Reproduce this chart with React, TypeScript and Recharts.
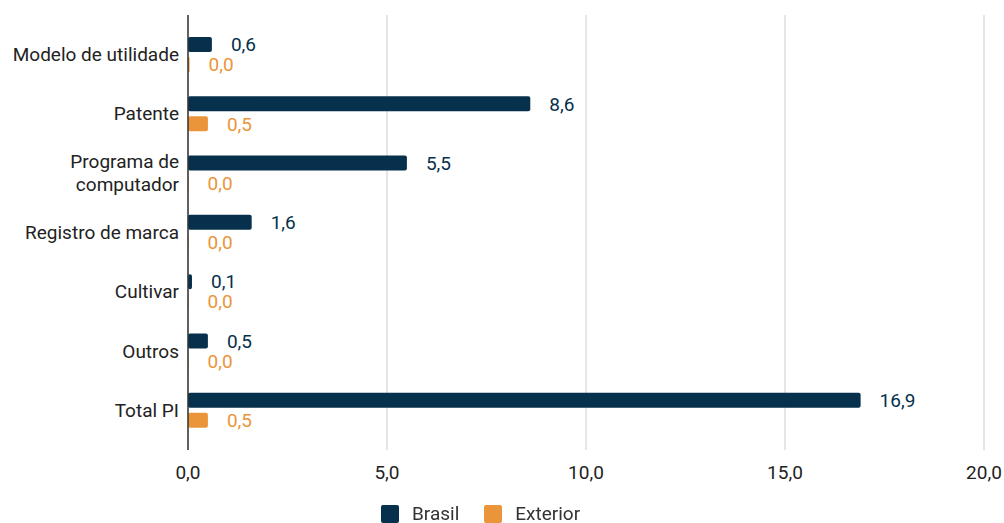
import { BarChart, Bar, XAxis, YAxis, CartesianGrid, LabelList, Legend } from "recharts";

const categories = [
  "Modelo de utilidade",
  "Patente",
  "Programa de\ncomputador",
  "Registro de marca",
  "Cultivar",
  "Outros",
  "Total PI",
];
const brasil = [0.6, 8.6, 5.5, 1.6, 0.1, 0.5, 16.9];
const exterior = [0.04, 0.5, 0.0, 0.0, 0.0, 0.0, 0.5];
const xTicks = [0, 5, 10, 15, 20];

const BRASIL = "#06304b";
const EXTERIOR = "#eb953a";
const FONT = "Roboto, sans-serif";
const FS = 19;

const fmt = (v: number) => v.toFixed(1).replace(".", ",");

const data = categories.map((name, i) => ({
  name,
  brasil: brasil[i],
  exterior: exterior[i],
}));

function CategoryTick({ x, y, payload }: any) {
  const lines = String(payload.value).split("\n");
  const lh = 23;
  const start = y - ((lines.length - 1) * lh) / 2;
  return (
    <text x={x - 1} y={start} textAnchor="end" fontSize={FS} fill="#222" fontFamily={FONT}>
      {lines.map((l, i) => (
        <tspan key={i} x={x - 1} y={start + i * lh} dominantBaseline="central">
          {l}
        </tspan>
      ))}
    </text>
  );
}

function LegendBox() {
  const items = [
    { label: "Brasil", color: BRASIL },
    { label: "Exterior", color: EXTERIOR },
  ];
  return (
    <div style={{ display: "flex", alignItems: "center", paddingLeft: 381, height: 18, lineHeight: "18px", fontFamily: FONT, fontSize: FS, color: "#333" }}>
      {items.map((it) => (
        <div key={it.label} style={{ display: "flex", alignItems: "center", marginRight: 25 }}>
          <span style={{ width: 18, height: 18, background: it.color, borderRadius: 2, marginRight: 13, display: "inline-block" }} />
          <span>{it.label}</span>
        </div>
      ))}
    </div>
  );
}

export default function App() {
  return (
    <div style={{ position: "fixed", left: 0, top: 0, background: "#fff" }}>
      <BarChart
        width={1004}
        height={523}
        data={data}
        layout="vertical"
        margin={{ top: 15, right: 20, bottom: 0, left: 0 }}
        barSize={15}
        barGap={5}
      >
        <CartesianGrid horizontal={false} stroke="#cccccc" />
        <XAxis
          type="number"
          domain={[0, 20]}
          ticks={xTicks}
          tickFormatter={fmt}
          axisLine={false}
          tickLine={false}
          height={55}
          tickMargin={10}
          tick={{ fontSize: FS, fill: "#222", fontFamily: FONT }}
        />
        <YAxis
          type="category"
          dataKey="name"
          width={188}
          axisLine={{ stroke: "#333", strokeWidth: 1.5 }}
          tickLine={false}
          padding={{ top: 10, bottom: 10 }}
          tick={<CategoryTick />}
          interval={0}
        />
        <Legend verticalAlign="bottom" content={() => <LegendBox />} />
        <Bar dataKey="brasil" name="Brasil" fill={BRASIL} radius={2} isAnimationActive={false}>
          <LabelList dataKey="brasil" position="right" offset={19} formatter={(v: any) => fmt(Number(v))} style={{ fontSize: FS, fill: BRASIL, fontFamily: FONT }} />
        </Bar>
        <Bar dataKey="exterior" name="Exterior" fill={EXTERIOR} radius={2} minPointSize={0.5} isAnimationActive={false}>
          <LabelList dataKey="exterior" position="right" offset={19} formatter={(v: any) => fmt(Number(v))} style={{ fontSize: FS, fill: EXTERIOR, fontFamily: FONT }} />
        </Bar>
      </BarChart>
    </div>
  );
}
